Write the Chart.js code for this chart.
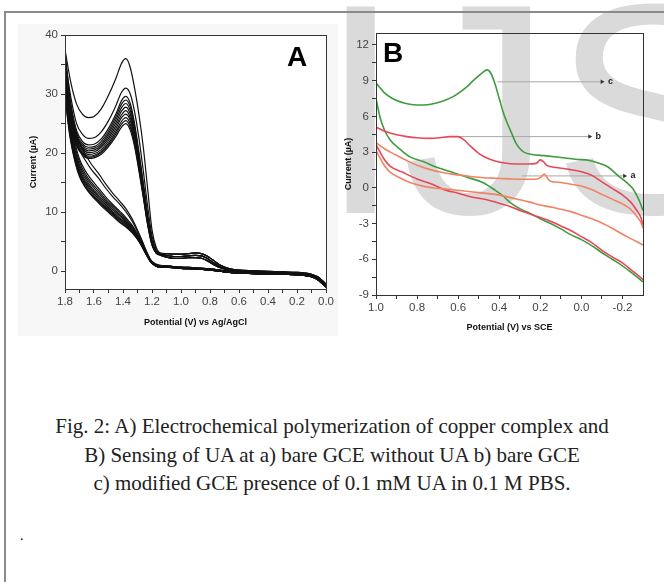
<!DOCTYPE html>
<html>
<head>
<meta charset="utf-8">
<script src="https://cdn.jsdelivr.net/npm/chart.js@4.4.1/dist/chart.umd.min.js"></script>
<style>
    html, body { margin: 0; padding: 0; background: #fff; }
    body { width: 664px; height: 582px; position: relative; overflow: hidden; font-family: "Liberation Sans", Arial, sans-serif; }
    #mark { position: absolute; left: 319px; top: -41px; font: 300px/300px "Liberation Sans"; color: #dadada; white-space: nowrap; }
    #frameTop { position: absolute; left: 4px; top: 11px; width: 660px; border-top: 2px solid #8a8a8a; }
    #frameLeft { position: absolute; left: 4px; top: 11px; height: 571px; border-left: 2px solid #8a8a8a; }
    #bgA { position: absolute; left: 18px; top: 24px; width: 320px; height: 312px; background: #f7f7f7; }
    canvas { position: absolute; }
    #cA { left: 0; top: 0; }
    #cB { left: 340px; top: 0; }
    .panel { position: absolute; font: bold 28px/28px "Liberation Sans"; color: #000; }
    #caption { position: absolute; left: 0; width: 664px; top: 412px; text-align: center; font: 21px/28.5px "Liberation Serif"; color: #222; }
    #dot { position: absolute; left: 20px; top: 528px; font: 14px "Liberation Serif"; }
</style>
</head>
<body>

<div id="mark">IJS</div>
<div id="bgA"></div>
<div id="frameTop"></div>
<div id="frameLeft"></div>

<canvas id="cA" width="340" height="340"></canvas>
<canvas id="cB" width="324" height="340"></canvas>

<div class="panel" style="left:287px; top:43px;">A</div>
<div class="panel" style="left:383px; top:39px;">B</div>

<div id="caption">
    Fig. 2: A) Electrochemical polymerization of copper complex and<br>
    B) Sensing of UA at a) bare GCE without UA b) bare GCE<br>
    c) modified GCE presence of 0.1 mM UA in 0.1 M PBS.
</div>
<div id="dot">.</div>

<script>

// ==========================
// Panel A data (11 cycles)
// ==========================

const aUpV = [1.80, 1.76, 1.72, 1.68, 1.64, 1.60, 1.55, 1.50, 1.45, 1.41, 1.38, 1.35, 1.32, 1.29, 1.26, 1.23, 1.20, 1.17, 1.14];
const aLoV = [1.80, 1.78, 1.76, 1.73, 1.70, 1.66, 1.62, 1.57, 1.52, 1.47, 1.42, 1.38, 1.34, 1.30, 1.27, 1.24, 1.21, 1.18, 1.14];
const aUpTailV = [1.10, 1.05, 1.00, 0.95, 0.90, 0.86, 0.82, 0.78, 0.74, 0.70, 0.66, 0.60, 0.50, 0.40, 0.30, 0.20, 0.15, 0.10, 0.06, 0.03, 0.00];
const aLoTailV = [1.10, 1.05, 1.00, 0.90, 0.80, 0.70, 0.60, 0.50, 0.40, 0.30, 0.20, 0.15, 0.10, 0.06, 0.03, 0.00];

const up1  = [37.5, 32.0, 28.3, 26.6, 26.0, 26.2, 27.5, 29.8, 32.6, 35.2, 36.0, 34.5, 31.0, 26.5, 21.0, 14.0, 7.0, 4.0, 3.1];
const up2  = [36.0, 29.5, 25.0, 23.2, 22.5, 22.6, 23.6, 25.5, 28.0, 30.3, 31.0, 30.0, 27.0, 22.5, 17.0, 11.0, 6.0, 3.7, 3.0];
const up3  = [35.0, 28.0, 23.8, 22.0, 21.4, 21.5, 22.4, 24.2, 26.6, 28.9, 29.6, 28.4, 25.0, 20.2, 15.0, 9.6, 5.3, 3.4, 3.0];
const up4  = [34.2, 27.4, 23.3, 21.6, 21.0, 21.1, 22.0, 23.7, 26.1, 28.3, 29.0, 27.8, 24.4, 19.7, 14.6, 9.3, 5.2, 3.4, 3.0];
const up5  = [33.5, 26.9, 22.9, 21.3, 20.7, 20.8, 21.6, 23.3, 25.6, 27.7, 28.4, 27.2, 23.9, 19.2, 14.2, 9.0, 5.0, 3.3, 2.9];
const up6  = [32.8, 26.4, 22.6, 21.0, 20.4, 20.5, 21.3, 22.9, 25.1, 27.1, 27.8, 26.6, 23.4, 18.8, 13.8, 8.8, 4.9, 3.3, 2.9];
const up7  = [32.2, 26.0, 22.3, 20.7, 20.1, 20.2, 21.0, 22.5, 24.6, 26.5, 27.2, 26.0, 22.9, 18.4, 13.5, 8.6, 4.8, 3.2, 2.8];
const up8  = [31.6, 25.6, 22.0, 20.4, 19.8, 19.9, 20.6, 22.1, 24.1, 26.0, 26.6, 25.5, 22.4, 18.0, 13.2, 8.4, 4.7, 3.2, 2.8];
const up9  = [31.0, 25.2, 21.7, 20.1, 19.5, 19.6, 20.3, 21.7, 23.6, 25.4, 26.0, 24.9, 21.9, 17.6, 12.9, 8.2, 4.6, 3.1, 2.8];
const up10 = [30.5, 24.8, 21.4, 19.9, 19.3, 19.4, 20.1, 21.4, 23.2, 24.9, 25.5, 24.4, 21.5, 17.3, 12.7, 8.0, 4.5, 3.1, 2.7];
const up11 = [30.0, 24.5, 21.2, 19.7, 19.1, 19.2, 19.8, 21.1, 22.8, 24.4, 25.0, 23.9, 21.1, 17.0, 12.5, 7.8, 4.4, 3.0, 2.7];

const lo1  = [37.5, 32.5, 28.5, 24.5, 21.8, 19.8, 18.2, 16.6, 14.8, 13.2, 11.8, 10.6, 9.0, 7.0, 5.3, 3.5, 2.0, 1.3, 1.0];
const lo2  = [36.0, 31.0, 27.0, 23.2, 20.6, 18.8, 17.3, 15.8, 14.1, 12.6, 11.3, 10.1, 8.6, 6.7, 5.1, 3.4, 1.9, 1.2, 0.9];
const lo3  = [35.0, 29.5, 25.5, 21.6, 19.0, 17.0, 15.6, 14.1, 12.6, 11.3, 10.1, 9.1, 7.9, 6.3, 4.9, 3.3, 1.9, 1.2, 0.9];
const lo4  = [34.2, 28.8, 24.8, 21.0, 18.5, 16.5, 15.1, 13.7, 12.2, 11.0, 9.8, 8.8, 7.7, 6.2, 4.8, 3.2, 1.8, 1.1, 0.8];
const lo5  = [33.5, 28.2, 24.3, 20.5, 18.0, 16.1, 14.7, 13.3, 11.9, 10.7, 9.5, 8.6, 7.5, 6.0, 4.7, 3.1, 1.8, 1.1, 0.8];
const lo6  = [32.8, 27.6, 23.8, 20.1, 17.6, 15.7, 14.3, 12.9, 11.6, 10.4, 9.3, 8.4, 7.3, 5.9, 4.6, 3.1, 1.7, 1.1, 0.8];
const lo7  = [32.2, 27.1, 23.4, 19.7, 17.2, 15.3, 14.0, 12.6, 11.3, 10.1, 9.0, 8.2, 7.1, 5.8, 4.5, 3.0, 1.7, 1.0, 0.7];
const lo8  = [31.6, 26.6, 23.0, 19.3, 16.9, 15.0, 13.7, 12.3, 11.0, 9.9, 8.8, 8.0, 7.0, 5.7, 4.4, 3.0, 1.7, 1.0, 0.7];
const lo9  = [31.0, 26.1, 22.6, 19.0, 16.6, 14.7, 13.4, 12.0, 10.8, 9.7, 8.6, 7.8, 6.8, 5.6, 4.3, 2.9, 1.6, 1.0, 0.7];
const lo10 = [30.5, 25.7, 22.2, 18.7, 16.3, 14.4, 13.1, 11.8, 10.6, 9.5, 8.4, 7.6, 6.7, 5.5, 4.3, 2.9, 1.6, 1.0, 0.7];
const lo11 = [30.0, 25.3, 21.9, 18.4, 16.0, 14.2, 12.9, 11.6, 10.4, 9.3, 8.2, 7.5, 6.6, 5.4, 4.2, 2.8, 1.6, 1.0, 0.7];

const upTail1 = [3.0, 2.9, 2.9, 3.0, 3.1, 3.0, 2.6, 1.9, 1.2, 0.7, 0.4, 0.2, 0.1, 0.0, -0.1, -0.2, -0.3, -0.5, -0.9, -1.5, -2.2];
const upTail2 = [2.7, 2.5, 2.5, 2.6, 2.7, 2.6, 2.2, 1.5, 0.9, 0.5, 0.3, 0.1, 0.0, -0.1, -0.2, -0.3, -0.4, -0.7, -1.2, -1.8, -2.5];
const upTail3 = [2.4, 2.2, 2.2, 2.3, 2.3, 2.2, 1.8, 1.2, 0.7, 0.4, 0.2, 0.0, -0.1, -0.2, -0.3, -0.4, -0.6, -0.9, -1.4, -2.0, -2.7];
const loTail1 = [0.9, 0.8, 0.7, 0.6, 0.4, 0.1, -0.1, -0.2, -0.3, -0.3, -0.4, -0.5, -0.7, -1.0, -1.5, -2.2];
const loTail2 = [0.7, 0.6, 0.5, 0.4, 0.2, -0.1, -0.3, -0.4, -0.5, -0.5, -0.6, -0.7, -0.9, -1.3, -1.8, -2.5];

const aUpCycles = [up1, up2, up3, up4, up5, up6, up7, up8, up9, up10, up11];
const aLoCycles = [lo1, lo2, lo3, lo4, lo5, lo6, lo7, lo8, lo9, lo10, lo11];
const aUpTailOf = [upTail1, upTail1, upTail1, upTail2, upTail2, upTail2, upTail2, upTail3, upTail3, upTail3, upTail3];
const aLoTailOf = [loTail1, loTail1, loTail1, loTail1, loTail2, loTail2, loTail2, loTail2, loTail2, loTail2, loTail2];

const aXMajor = [0.0, 0.2, 0.4, 0.6, 0.8, 1.0, 1.2, 1.4, 1.6, 1.8];
const aXMinor = [0.1, 0.3, 0.5, 0.7, 0.9, 1.1, 1.3, 1.5, 1.7];
const aYMajor = [0, 10, 20, 30, 40];
const aYMinor = [5, 15, 25, 35];

// ==========================
// Panel B data (curves a, b, c)
// ==========================

const cUpV = [1.00, 0.96, 0.92, 0.86, 0.80, 0.74, 0.68, 0.62, 0.57, 0.52, 0.48, 0.46, 0.44, 0.42, 0.40, 0.38, 0.36, 0.34, 0.32, 0.30, 0.28, 0.24, 0.18, 0.10, 0.03, -0.04, -0.09, -0.13, -0.18, -0.22, -0.25, -0.28, -0.30];
const cUpI = [8.8, 8.0, 7.5, 7.1, 6.95, 7.0, 7.25, 7.7, 8.3, 9.1, 9.7, 9.9, 9.6, 8.7, 7.5, 6.3, 5.4, 4.6, 3.8, 3.3, 3.0, 2.8, 2.7, 2.55, 2.4, 2.3, 2.05, 1.75, 1.0, 0.45, -0.05, -1.0, -1.9];
const cLoV = [-0.30, -0.25, -0.20, -0.15, -0.10, -0.05, 0.00, 0.05, 0.10, 0.15, 0.20, 0.25, 0.30, 0.35, 0.38, 0.42, 0.48, 0.55, 0.62, 0.70, 0.77, 0.835, 0.88, 0.93, 0.96, 0.98, 1.00];
const cLoI = [-7.9, -7.2, -6.55, -6.0, -5.45, -4.85, -4.35, -3.95, -3.45, -3.0, -2.6, -2.15, -1.75, -1.2, -0.7, -0.2, 0.45, 0.85, 1.25, 1.7, 2.2, 2.6, 3.2, 4.0, 4.9, 5.9, 7.5];

const bUpV = [1.00, 0.95, 0.90, 0.85, 0.80, 0.74, 0.69, 0.64, 0.60, 0.57, 0.54, 0.50, 0.46, 0.42, 0.38, 0.32, 0.26, 0.22, 0.20, 0.185, 0.17, 0.12, 0.06, 0.00, -0.05, -0.10, -0.15, -0.20, -0.24, -0.27, -0.29, -0.30];
const bUpI = [5.1, 4.7, 4.45, 4.3, 4.2, 4.15, 4.2, 4.3, 4.3, 4.0, 3.5, 2.9, 2.5, 2.25, 2.1, 2.0, 2.0, 2.05, 2.35, 2.2, 1.9, 1.7, 1.55, 1.35, 1.05, 0.5, -0.05, -0.6, -1.2, -1.9, -2.5, -3.1];
const bLoV = [-0.30, -0.25, -0.20, -0.15, -0.10, -0.05, 0.00, 0.05, 0.10, 0.15, 0.20, 0.25, 0.30, 0.35, 0.40, 0.46, 0.54, 0.60, 0.66, 0.72, 0.80, 0.87, 0.93, 0.96, 0.98, 1.00];
const bLoI = [-7.7, -7.0, -6.3, -5.8, -5.25, -4.6, -4.1, -3.6, -3.2, -2.8, -2.5, -2.2, -1.9, -1.55, -1.3, -1.0, -0.75, -0.45, -0.2, 0.25, 0.75, 1.3, 1.8, 2.4, 3.0, 3.6];

const aaUpV = [1.00, 0.96, 0.93, 0.88, 0.84, 0.80, 0.74, 0.68, 0.63, 0.56, 0.49, 0.42, 0.35, 0.28, 0.22, 0.20, 0.18, 0.165, 0.15, 0.10, 0.05, 0.00, -0.05, -0.10, -0.15, -0.20, -0.24, -0.27, -0.29, -0.30];
const aaUpI = [3.8, 3.3, 3.0, 2.55, 2.2, 1.9, 1.55, 1.3, 1.15, 1.0, 0.87, 0.8, 0.75, 0.72, 0.72, 0.85, 1.15, 0.8, 0.55, 0.45, 0.3, 0.15, -0.15, -0.55, -0.95, -1.35, -1.8, -2.4, -2.9, -3.4];
const aaLoV = [-0.30, -0.25, -0.20, -0.15, -0.10, -0.05, 0.00, 0.05, 0.10, 0.15, 0.20, 0.25, 0.30, 0.35, 0.42, 0.50, 0.58, 0.66, 0.71, 0.76, 0.835, 0.88, 0.93, 0.96, 0.98, 1.00];
const aaLoI = [-4.8, -4.35, -3.9, -3.4, -2.95, -2.6, -2.3, -2.0, -1.8, -1.6, -1.45, -1.2, -1.0, -0.8, -0.55, -0.4, -0.25, -0.1, -0.03, 0.1, 0.45, 0.8, 1.3, 1.9, 2.5, 3.1];

// arrows pointing at the curves
const arrowLabels = ["c", "b", "a"];
const arrowY = [8.9, 4.3, 1.0];
const arrowFrom = [0.41, 0.63, 0.29];
const arrowTo = [-0.10, -0.04, -0.21];

const bXMajor = [-0.2, 0.0, 0.2, 0.4, 0.6, 0.8, 1.0];
const bXMinor = [-0.1, 0.1, 0.3, 0.5, 0.7, 0.9];
const bYMajor = [-9, -6, -3, 0, 3, 6, 9, 12];
const bYMinor = [-7.5, -4.5, -1.5, 1.5, 4.5, 7.5, 10.5];

// ==========================
// Helpers
// ==========================

const pts = (xs, ys) => xs.map((x, i) => ({ x: x, y: ys[i] }));

const tickFont = { family: "Liberation Sans", size: 11.5 };
const titleFont = { family: "Liberation Sans", size: 9, weight: "bold" };

function axis(min, max, majors, minors, fmt, title, size, horizontal) {
    return {
        type: "linear",
        min: min,
        max: max,
        reverse: horizontal,
        afterBuildTicks: s => {
            s.ticks = majors.concat(minors).sort((p, q) => p - q).map(v => ({ value: v }));
        },
        afterFit: s => {
            if (horizontal) s.height = size; else s.width = size;
        },
        ticks: {
            color: "#444",
            font: tickFont,
            padding: horizontal ? 2 : 3,
            autoSkip: false,
            maxRotation: 0,
            callback: v => majors.includes(v) ? fmt(v) : ""
        },
        grid: {
            drawOnChartArea: false,
            tickLength: 4,
            tickColor: "#333",
            tickWidth: 1
        },
        border: { color: "#333", width: 1 },
        title: { display: true, text: title, color: "#111", font: titleFont, padding: 0 }
    };
}

const boxPlugin = {
    id: "box",
    beforeDatasetsDraw(chart, args, opts) {
        if (!opts.fill) return;
        const a = chart.chartArea;
        chart.ctx.save();
        chart.ctx.fillStyle = opts.fill;
        chart.ctx.fillRect(a.left, a.top, a.right - a.left, a.bottom - a.top);
        chart.ctx.restore();
    },
    afterDraw(chart) {
        const a = chart.chartArea;
        const ctx = chart.ctx;
        ctx.save();
        ctx.strokeStyle = "#333";
        ctx.lineWidth = 1;
        ctx.strokeRect(Math.round(a.left) + 0.5, Math.round(a.top) + 0.5, Math.round(a.right - a.left), Math.round(a.bottom - a.top));
        ctx.restore();
    }
};

// ==========================
// Panel A chart
// ==========================

const aSets = [];

aUpCycles.forEach((cyc, k) => {
    aSets.push({
        data: pts(aUpV.concat(aUpTailV), cyc.concat(aUpTailOf[k]))
    });
    aSets.push({
        data: pts(aLoV.concat(aLoTailV), aLoCycles[k].concat(aLoTailOf[k]))
    });
});

aSets.forEach(d => {
    d.showLine = true;
    d.borderColor = "#111";
    d.borderWidth = 1.2;
    d.pointRadius = 0;
    d.cubicInterpolationMode = "monotone";
});

new Chart(document.getElementById("cA"), {
    type: "scatter",
    data: { datasets: aSets },
    options: {
        responsive: false,
        animation: false,
        layout: { padding: { left: 28, right: 14, top: 35, bottom: 12 } },
        plugins: { legend: { display: false }, tooltip: { enabled: false }, box: { fill: "#fff" } },
        scales: {
            x: axis(0, 1.8, aXMajor, aXMinor, v => v.toFixed(1), "Potential (V) vs Ag/AgCl", 39, true),
            y: axis(-3, 40, aYMajor, aYMinor, v => String(v), "Current (\u00b5A)", 37, false)
        }
    },
    plugins: [boxPlugin]
});

// ==========================
// Panel B chart
// ==========================

const green = "#3f9b3f";
const red = "#e8475a";
const orange = "#f08462";

const line = (data, color) => ({
    data: data,
    showLine: true,
    borderColor: color,
    borderWidth: 1.6,
    pointRadius: 0,
    cubicInterpolationMode: "monotone"
});

const bSets = [
    line(pts(aaUpV, aaUpI), orange),
    line(pts(aaLoV, aaLoI), orange),
    line(pts(bUpV, bUpI), red),
    line(pts(bLoV, bLoI), red),
    line(pts(cUpV, cUpI), green),
    line(pts(cLoV, cLoI), green)
];

arrowLabels.forEach((lab, i) => {
    bSets.push({
        data: [{ x: arrowFrom[i], y: arrowY[i] }, { x: arrowTo[i], y: arrowY[i] }],
        showLine: true,
        borderColor: "#a8a8a8",
        borderWidth: 1,
        pointRadius: [0, 2.6],
        pointStyle: "triangle",
        rotation: 90,
        pointBackgroundColor: "#333",
        pointBorderWidth: 0
    });
});

const arrowText = {
    id: "arrowText",
    afterDatasetsDraw(chart) {
        const ctx = chart.ctx;
        ctx.save();
        ctx.fillStyle = "#222";
        ctx.font = "bold 9px 'Liberation Sans'";
        ctx.textBaseline = "middle";
        arrowLabels.forEach((lab, i) => {
            const x = chart.scales.x.getPixelForValue(arrowTo[i]) + 6;
            const y = chart.scales.y.getPixelForValue(arrowY[i]);
            ctx.fillText(lab, x, y);
        });
        ctx.restore();
    }
};

new Chart(document.getElementById("cB"), {
    type: "scatter",
    data: { datasets: bSets },
    options: {
        responsive: false,
        animation: false,
        layout: { padding: { left: 3, right: 21, top: 33, bottom: 7 } },
        plugins: { legend: { display: false }, tooltip: { enabled: false }, box: {} },
        scales: {
            x: axis(-0.3, 1.0, bXMajor, bXMinor, v => v.toFixed(1), "Potential (V) vs SCE", 38, true),
            y: axis(-9, 13, bYMajor, bYMinor, v => String(v), "Current (\u00b5A)", 33, false)
        }
    },
    plugins: [boxPlugin, arrowText]
});

</script>
</body>
</html>
